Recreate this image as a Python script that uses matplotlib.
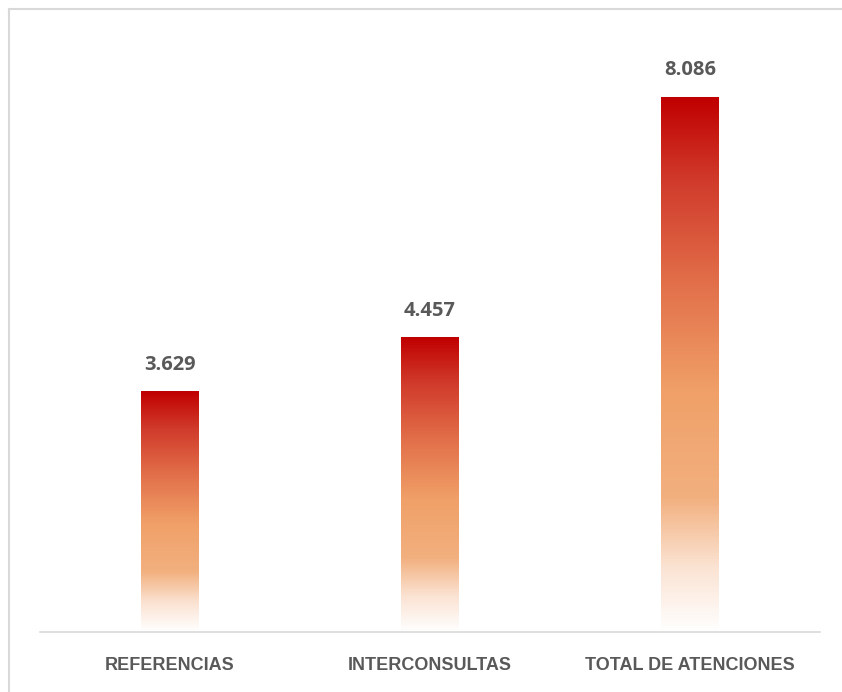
import numpy as np
import matplotlib.pyplot as plt
from matplotlib.colors import LinearSegmentedColormap
from matplotlib.lines import Line2D

categorias = ["REFERENCIAS", "INTERCONSULTAS", "TOTAL DE ATENCIONES"]
valores = [3629, 4457, 8086]
etiquetas = ["3.629", "4.457", "8.086"]

W, H = 842, 692
fig = plt.figure(figsize=(W / 100, H / 100), dpi=100)
ax = fig.add_axes([40 / W, 60 / H, 780 / W, 612 / H])

# degradado vertical: rojo arriba, naranja en medio, blanco abajo
cmap = LinearSegmentedColormap.from_list(
    "grad",
    [(0.0, "#FFFFFF"), (0.12, "#FBE3D3"), (0.25, "#F2B07F"),
     (0.45, "#F0A068"), (0.65, "#E2704A"), (0.85, "#D0392A"), (1.0, "#C00000")])
grad = np.linspace(0, 1, 256).reshape(-1, 1)

ancho = 0.223
for i, v in enumerate(valores):
    ax.imshow(grad, cmap=cmap, origin="lower", aspect="auto",
              extent=[i - ancho / 2, i + ancho / 2, 0, v], zorder=2)
    ax.text(i, v + 250, etiquetas[i], ha="center", va="bottom",
            fontsize=14.5, fontweight="bold", color="#595959",
            family=["Open Sans", "DejaVu Sans"])

ax.set_xlim(-0.5, 2.5)
ax.set_ylim(0, 9250)
ax.set_xticks(range(len(categorias)))
ax.set_xticklabels(categorias, fontsize=13, color="#595959",
                   fontweight="bold", family=["Liberation Sans", "DejaVu Sans"])
ax.tick_params(axis="x", length=0, pad=18)
ax.set_yticks([])
for s in ["top", "right", "left"]:
    ax.spines[s].set_visible(False)
ax.spines["bottom"].set_color("#D9D9D9")
ax.spines["bottom"].set_linewidth(1.2)

# marco gris (borde superior e izquierdo)
fig.add_artist(Line2D([8.5 / W, 1], [1 - 8.5 / H, 1 - 8.5 / H],
                      color="#D9D9D9", lw=1.5, transform=fig.transFigure))
fig.add_artist(Line2D([8.5 / W, 8.5 / W], [0, 1 - 8.5 / H],
                      color="#D9D9D9", lw=1.5, transform=fig.transFigure))

fig.savefig("out.png", dpi=100)
